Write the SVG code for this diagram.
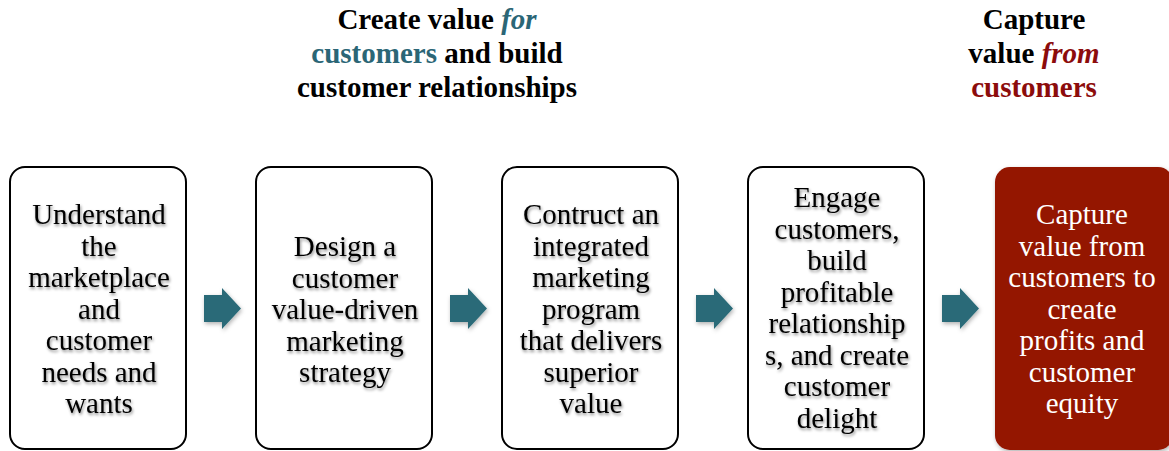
<svg xmlns="http://www.w3.org/2000/svg" width="1169" height="451" viewBox="0 0 1169 451">
  <defs>
    <filter id="textShadow" x="-10%" y="-10%" width="120%" height="130%">
      <feDropShadow dx="1" dy="2" stdDeviation="1.5" flood-color="#000" flood-opacity="0.45"/>
    </filter>
    <filter id="softShadow" x="-20%" y="-20%" width="140%" height="140%">
      <feDropShadow dx="1" dy="2" stdDeviation="2" flood-color="#000" flood-opacity="0.3"/>
    </filter>
  </defs>
  <style>
    .title { font-family: "Liberation Serif", "Times New Roman", serif; font-size: 29px; font-weight: bold; fill: #000; text-anchor: middle; }
    .teal { fill: #2b6676; }
    .red { fill: #8c0c0c; }
    .box { fill: #fff; stroke: #000; stroke-width: 2; }
    .boxFinal { fill: #941300; }
    .label { font-family: "Liberation Serif", "Times New Roman", serif; font-size: 29px; fill: #000; text-anchor: middle; filter: url(#textShadow); }
    .labelLight { font-family: "Liberation Serif", "Times New Roman", serif; font-size: 29px; fill: #fff; text-anchor: middle; }
    .arrow { fill: #2a6b78; filter: url(#softShadow); }
  </style>

  <rect width="1169" height="451" fill="#fff"/>

  <!-- stage headings -->
  <g id="heading-create">
    <text class="title" x="437" y="29">Create value <tspan class="teal" font-style="italic">for</tspan></text>
    <text class="title" x="437" y="63"><tspan class="teal">customers</tspan> and build</text>
    <text class="title" x="437" y="97">customer relationships</text>
  </g>
  <g id="heading-capture">
    <text class="title" x="1034" y="29">Capture</text>
    <text class="title" x="1034" y="63">value <tspan class="red" font-style="italic">from</tspan></text>
    <text class="title red" x="1034" y="97">customers</text>
  </g>

  <!-- process steps -->
  <g id="step-understand">
    <rect class="box" x="10" y="167" width="176" height="282" rx="15"/>
    <text class="label" x="99" y="224">Understand</text>
    <text class="label" x="99" y="255.5">the</text>
    <text class="label" x="99" y="287">marketplace</text>
    <text class="label" x="99" y="318.5">and</text>
    <text class="label" x="99" y="350">customer</text>
    <text class="label" x="99" y="381.5">needs and</text>
    <text class="label" x="99" y="413">wants</text>
  </g>

  <g id="step-design">
    <rect class="box" x="256" y="167" width="176" height="282" rx="15"/>
    <text class="label" x="345" y="256">Design a</text>
    <text class="label" x="345" y="287.5">customer</text>
    <text class="label" x="345" y="319">value-driven</text>
    <text class="label" x="345" y="350.5">marketing</text>
    <text class="label" x="345" y="382">strategy</text>
  </g>

  <g id="step-construct">
    <rect class="box" x="502" y="167" width="176" height="282" rx="15"/>
    <text class="label" x="591" y="224">Contruct an</text>
    <text class="label" x="591" y="255.5">integrated</text>
    <text class="label" x="591" y="287">marketing</text>
    <text class="label" x="591" y="318.5">program</text>
    <text class="label" x="591" y="350">that delivers</text>
    <text class="label" x="591" y="381.5">superior</text>
    <text class="label" x="591" y="413">value</text>
  </g>

  <g id="step-engage">
    <rect class="box" x="748" y="167" width="176" height="282" rx="15"/>
    <text class="label" x="837" y="207">Engage</text>
    <text class="label" x="837" y="238.5">customers,</text>
    <text class="label" x="837" y="270">build</text>
    <text class="label" x="837" y="301.5">profitable</text>
    <text class="label" x="837" y="333">relationship</text>
    <text class="label" x="837" y="364.5">s, and create</text>
    <text class="label" x="837" y="396">customer</text>
    <text class="label" x="837" y="427.5">delight</text>
  </g>

  <g id="step-capture">
    <rect class="boxFinal" x="995" y="167" width="178" height="283" rx="15" filter="url(#softShadow)"/>
    <text class="labelLight" x="1082" y="224">Capture</text>
    <text class="labelLight" x="1082" y="255.5">value from</text>
    <text class="labelLight" x="1082" y="287">customers to</text>
    <text class="labelLight" x="1082" y="318.5">create</text>
    <text class="labelLight" x="1082" y="350">profits and</text>
    <text class="labelLight" x="1082" y="381.5">customer</text>
    <text class="labelLight" x="1082" y="413">equity</text>
  </g>

  <!-- block arrows between steps -->
  <g id="connectors">
    <path class="arrow" d="M204 295 H222 V288 L241 308.5 L222 329 V322 H204 Z"/>
    <path class="arrow" d="M450 295 H468 V288 L487 308.5 L468 329 V322 H450 Z"/>
    <path class="arrow" d="M696 295 H714 V288 L733 308.5 L714 329 V322 H696 Z"/>
    <path class="arrow" d="M942 295 H960 V288 L979 308.5 L960 329 V322 H942 Z"/>
  </g>
</svg>
